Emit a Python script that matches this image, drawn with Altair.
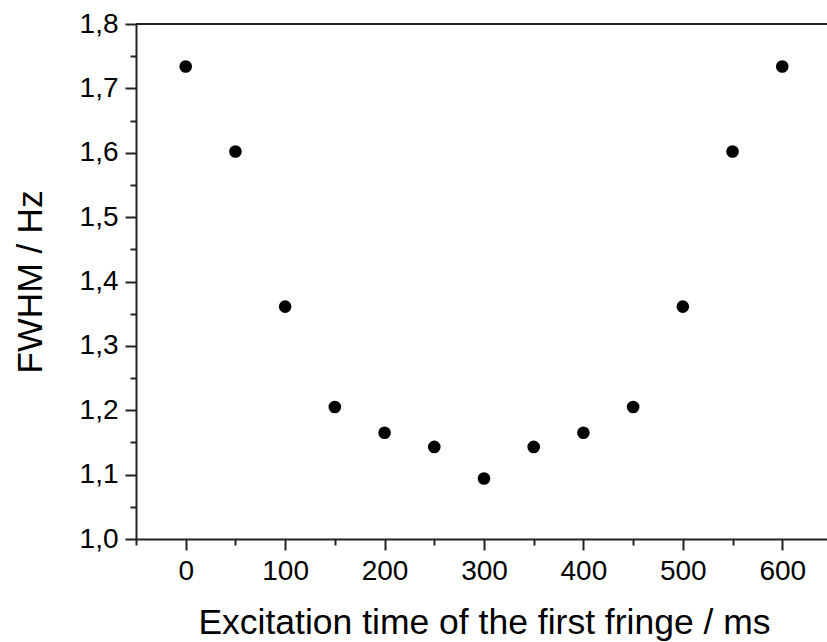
import altair as alt
import pandas as pd

times = [0, 50, 100, 150, 200, 250, 300, 350, 400, 450, 500, 550, 600]
fwhm = [1.734, 1.602, 1.361, 1.205, 1.165, 1.143, 1.094, 1.143, 1.165, 1.205, 1.361, 1.602, 1.734]

x_major = [0, 100, 200, 300, 400, 500, 600]
x_minor = [-50, 50, 150, 250, 350, 450, 550]
y_major = [1.0, 1.1, 1.2, 1.3, 1.4, 1.5, 1.6, 1.7, 1.8]
y_minor = [1.05, 1.15, 1.25, 1.35, 1.45, 1.55, 1.65, 1.75]

df = pd.DataFrame({"t": times, "w": fwhm})

W, H = 691, 515
FONT = "Liberation Sans"
AX = "#222222"

xscale = alt.Scale(domain=[-50, 645], nice=False, zero=False)
yscale = alt.Scale(domain=[1.0, 1.8], nice=False, zero=False)

points = alt.Chart(df).mark_circle(size=160, color="black", opacity=1).encode(
    x=alt.X("t:Q", scale=xscale, axis=alt.Axis(
        orient="bottom", values=x_major, tickSize=11, tickWidth=2, tickColor=AX,
        domainColor=AX, domainWidth=2, labelFontSize=28, labelFont=FONT,
        labelColor="black", labelPadding=7, grid=False,
        title="Excitation time of the first fringe / ms", titleFont=FONT,
        titleFontSize=35.5, titleFontWeight="normal", titleColor="black",
        titleX=348, titleY=94, titleBaseline="alphabetic", titleAlign="center")),
    y=alt.Y("w:Q", scale=yscale, axis=alt.Axis(
        orient="left", values=y_major, tickSize=11, tickWidth=2, tickColor=AX,
        domainColor=AX, domainWidth=2, labelFontSize=28, labelFont=FONT,
        labelColor="black", labelPadding=7, grid=False,
        labelExpr="replace(format(datum.value, '.1f'), '.', ',')",
        title="FWHM / Hz", titleFont=FONT, titleFontSize=35.5,
        titleFontWeight="normal", titleColor="black", titleAngle=-90,
        titleX=-106, titleY=H / 2, titleBaseline="middle", titleAlign="center")),
)

minor = alt.Chart(df).mark_circle(opacity=0).encode(
    x=alt.X("t:Q", scale=xscale, axis=alt.Axis(
        orient="bottom", values=x_minor, tickSize=6, tickWidth=2, tickColor=AX,
        domain=False, labels=False, title=None, grid=False)),
    y=alt.Y("w:Q", scale=yscale, axis=alt.Axis(
        orient="left", values=y_minor, tickSize=6, tickWidth=2, tickColor=AX,
        domain=False, labels=False, title=None, grid=False)),
)

top = alt.Chart(df).mark_rule(color=AX, strokeWidth=2).encode(
    x=alt.value(0), x2=alt.value(W), y=alt.value(0)
)

chart = alt.layer(points, minor, top).resolve_axis(
    x="independent", y="independent"
).properties(
    width=W, height=H,
    autosize=alt.AutoSizeParams(type="none"),
    padding={"left": 136, "top": 24, "right": 0, "bottom": 103},
).configure_view(stroke=None).configure(background="white")

chart.save("out.html", embed_options={"renderer": "svg", "actions": False})
